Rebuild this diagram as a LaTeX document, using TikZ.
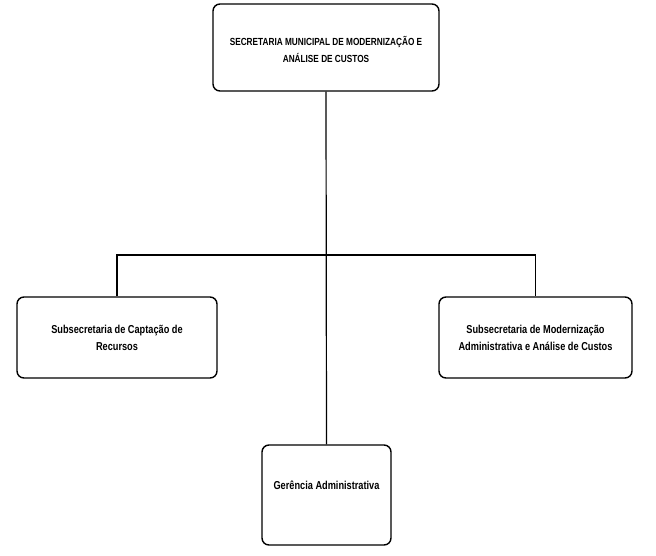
\documentclass[tikz,border=0pt]{standalone}
\usepackage{fontspec}
\setmainfont{Liberation Sans}[FakeStretch=0.8]
\begin{document}
\begin{tikzpicture}[x=1pt,y=-1pt,
  box/.style={draw, line width=1.4pt, rounded corners=7pt, align=center, inner sep=0pt, font=\bfseries\fontsize{11.5}{17}\selectfont},
  lbl/.style={align=center, inner sep=0pt},
  link/.style={line width=1.2pt}]
\useasboundingbox (0,0) rectangle (656,555);
\node[box, minimum width=226pt, minimum height=87pt] (top) at (326,47.5) {};
\node[lbl, font=\bfseries\fontsize{10.3}{17}\selectfont] (toplabel) at (326,49.5) {SECRETARIA MUNICIPAL DE MODERNIZAÇÃO E\\ANÁLISE DE CUSTOS};
\node[box, minimum width=200pt, minimum height=81pt] (left) at (117,337.5) {Subsecretaria de Captação de\\Recursos};
\node[box, minimum width=193pt, minimum height=81pt] (right) at (535.5,337.5) {Subsecretaria de Modernização\\Administrativa e Análise de Custos};
\node[box, minimum width=129pt, minimum height=100pt] (bot) at (326.5,495) {};
\node[lbl, font=\bfseries\fontsize{11.5}{17}\selectfont] (botlabel) at (326.5,485) {Gerência Administrativa};
\coordinate (jl) at (117,255);
\coordinate (jr) at (535.5,255);
\draw[link] (top.south) -- (bot.north);
\draw[link] (left.north) -- (jl) -- (jr) -- (right.north);
\end{tikzpicture}
\end{document}
